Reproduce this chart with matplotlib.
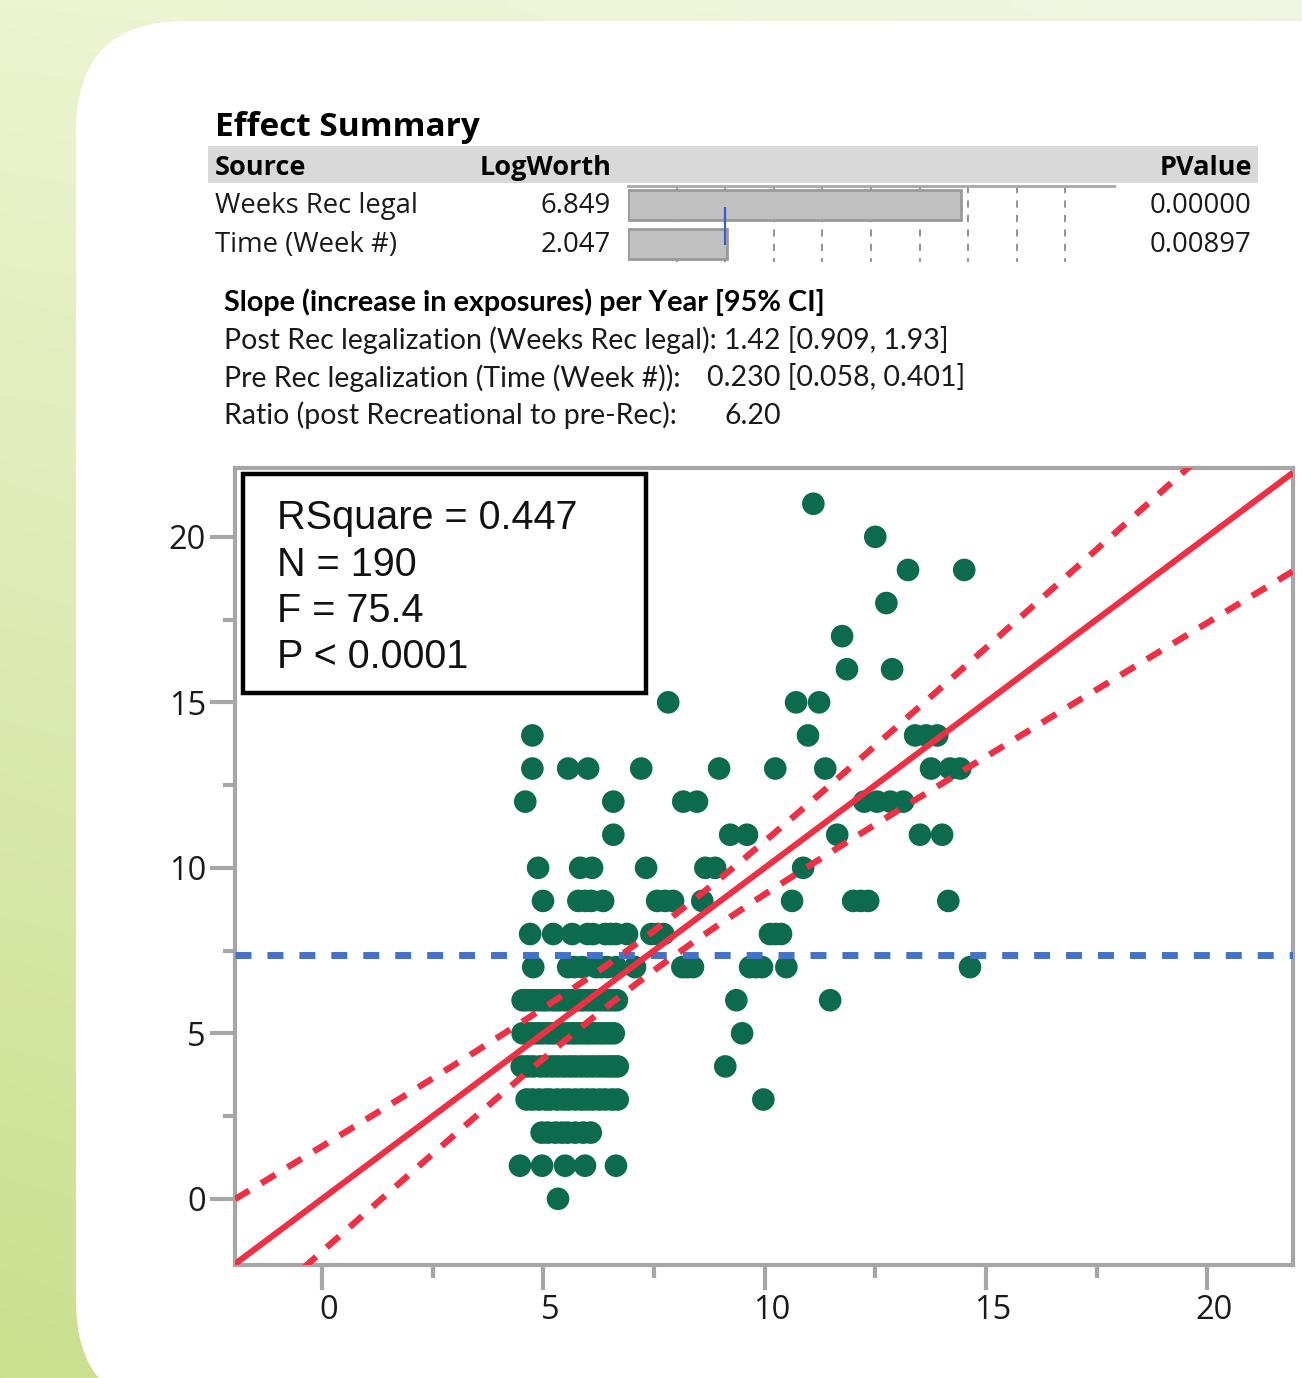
import numpy as np
import matplotlib
matplotlib.use("Agg")
import matplotlib.pyplot as plt
import matplotlib.transforms as mtransforms
from matplotlib.patches import FancyBboxPatch, Rectangle
from matplotlib.ticker import MultipleLocator

# ---------------- data ----------------
sources = ["Weeks Rec legal", "Time (Week #)"]
logworth = [6.849, 2.047]
logworth_labels = ["6.849", "2.047"]
pvalues = ["0.00000", "0.00897"]
logworth_ref = 2.0          # blue reference line (p = 0.01)

slope_title = "Slope (increase in exposures) per Year [95% CI]"
slope_labels = ["Post Rec legalization (Weeks Rec legal): 1.42 [0.909, 1.93]",
                "Pre Rec legalization (Time (Week #)):",
                "Ratio (post Recreational to pre-Rec):"]
slope_values = ["", "0.230 [0.058, 0.401]", "6.20"]
fit_stats = ["RSquare = 0.447", "N = 190", "F = 75.4", "P < 0.0001"]

# Actual (rows, y) by Predicted (x) points
actual_rows = [21, 20, 19, 18, 17, 16, 15, 14, 13, 12, 11, 10, 9, 8, 7, 6, 5, 4, 3, 2, 1, 0]
predicted_by_row = [
    [11.10],
    [12.50],
    [13.24, 14.51],
    [12.75],
    [11.75],
    [11.86, 12.88],
    [7.82, 10.71, 11.23],
    [4.75, 10.98, 13.40, 13.65, 13.90],
    [4.75, 5.56, 6.01, 7.21, 8.97, 10.24, 11.37, 13.76, 14.19, 14.42],
    [4.59, 6.58, 8.16, 8.47, 12.25, 12.54, 12.84, 13.13],
    [6.58, 9.22, 9.60, 11.64, 13.51, 14.01],
    [4.88, 5.83, 6.10, 7.32, 8.66, 8.88, 10.87],
    [4.99, 5.79, 5.95, 6.08, 6.35, 7.57, 7.75, 7.93, 8.59, 10.62, 12.00, 12.17, 12.34, 14.15],
    [4.70, 5.22, 5.65, 6.00, 6.12, 6.40, 6.52, 6.64, 6.89, 7.44, 7.58, 7.71, 10.12, 10.25, 10.37],
    [4.77, 5.56, 5.70, 5.88, 6.19, 6.30, 6.44, 6.64, 7.07, 8.14, 8.25, 8.38, 9.67, 9.80, 9.94, 10.49, 14.64],
    [4.53, 4.61, 4.72, 4.80, 4.91, 5.00, 5.08, 5.19, 5.27, 5.36, 5.47, 5.55, 5.63, 5.74, 5.83,
     5.90, 6.01, 6.10, 6.18, 6.29, 6.38, 6.47, 6.57, 6.66, 9.36, 11.48],
    [4.53, 4.64, 4.75, 4.86, 4.97, 5.10, 5.21, 5.32, 5.42, 5.55, 5.66, 5.76, 5.87, 5.98, 6.07,
     6.17, 6.28, 6.38, 6.49, 6.59, 9.49],
    [4.51, 4.64, 4.77, 4.93, 5.06, 5.20, 5.33, 5.47, 5.60, 5.72, 5.86, 5.99, 6.11, 6.24, 6.36,
     6.47, 6.58, 6.68, 9.11],
    [4.62, 4.75, 4.90, 5.05, 5.15, 5.31, 5.45, 5.57, 5.72, 5.86, 5.99, 6.12, 6.27, 6.40, 6.55,
     6.68, 9.97],
    [4.96, 5.10, 5.27, 5.42, 5.55, 5.72, 5.90, 6.07],
    [4.47, 4.97, 5.49, 5.94, 6.64],
    [5.33],
]
ci_a = 0.60   # half-width of confidence curves at the mean
ci_b = 0.20   # growth of half-width away from the mean

x_ticks = [0, 5, 10, 15, 20]
y_ticks = [0, 5, 10, 15, 20]

# ---------------- figure ----------------
W, H = 1302, 1378
fig = plt.figure(figsize=(W / 100, H / 100), dpi=100)

bg = fig.add_axes([0, 0, 1, 1], zorder=0)
bg.set_xlim(0, W)
bg.set_ylim(H, 0)
bg.axis("off")
tl = np.array([236, 244, 208]) / 255
tr = np.array([241, 246, 226]) / 255
bl = np.array([203, 223, 142]) / 255
br = np.array([214, 230, 168]) / 255
yy, xx = np.mgrid[0:1:120j, 0:1:120j]
grad = ((1 - yy)[..., None] * ((1 - xx)[..., None] * tl + xx[..., None] * tr)
        + yy[..., None] * ((1 - xx)[..., None] * bl + xx[..., None] * br))
bg.imshow(grad, extent=(0, W, H, 0), aspect="auto", zorder=0, interpolation="bilinear")
bg.add_patch(FancyBboxPatch((76, 21), 1500, 1390,
                            boxstyle="round,pad=0,rounding_size=110",
                            facecolor="white", edgecolor="none", zorder=1))

# header band of effect summary
bg.add_patch(Rectangle((208, 146), 1050, 37, facecolor="#d9d9d9", edgecolor="none", zorder=2))

TFONT = ["Open Sans", "DejaVu Sans"]
SFONT = ["Lato", "DejaVu Sans"]
AFONT = ["Liberation Sans", "DejaVu Sans"]
tc = "#1a1a1a"

bg.text(215, 136, "Effect Summary", fontsize=24, fontweight="bold", family=TFONT,
        color="black", va="baseline", ha="left", zorder=3)
bg.text(215, 175, "Source", fontsize=19.5, fontweight="bold", family=TFONT,
        color="black", va="baseline", ha="left", zorder=3)
bg.text(612, 175, "LogWorth", fontsize=19.5, fontweight="bold", family=TFONT,
        color="black", va="baseline", ha="right", zorder=3)
bg.text(1252, 175, "PValue", fontsize=19.5, fontweight="bold", family=TFONT,
        color="black", va="baseline", ha="right", zorder=3)
for i, (s, lw_lab, pv) in enumerate(zip(sources, logworth_labels, pvalues)):
    yb = 213 + 38.5 * i
    bg.text(215, yb, s, fontsize=19.8, family=TFONT, color=tc, va="baseline", ha="left", zorder=3)
    bg.text(611, yb, lw_lab, fontsize=19.8, family=TFONT, color=tc, va="baseline", ha="right", zorder=3)
    bg.text(1251, yb, pv, fontsize=19.8, family=TFONT, color=tc, va="baseline", ha="right", zorder=3)

bg.text(224, 311, slope_title, fontsize=20.7, fontweight="bold", family=SFONT,
        color="black", va="baseline", ha="left", zorder=3)
value_x = [None, 707, 725]
for i, (lab, val) in enumerate(zip(slope_labels, slope_values)):
    yb = 349 + 37.5 * i
    bg.text(224, yb, lab, fontsize=20.5, family=SFONT, color=tc, va="baseline", ha="left", zorder=3)
    if val:
        bg.text(value_x[i], yb, val, fontsize=20.5, family=SFONT, color=tc,
                va="baseline", ha="left", zorder=3)

# ---------------- LogWorth bars ----------------
axb = fig.add_axes([628 / W, 1 - 262 / H, 486 / W, 76 / H], zorder=2)
axb.set_xlim(0, 10)
axb.set_ylim(262, 186)
axb.patch.set_alpha(0)
for sp in ["left", "right", "bottom"]:
    axb.spines[sp].set_visible(False)
axb.spines["top"].set_color("#a8a8a8")
axb.spines["top"].set_linewidth(2)
axb.set_xticks([])
axb.set_yticks([])
axb.vlines(np.arange(1, 10), 186, 262, colors="#8a8a8a", linewidth=1.3,
           linestyles=(0, (4, 4)), zorder=1)
axb.barh([205, 244], logworth, height=30, left=0, color="#c0c0c0",
         edgecolor="#9a9a9a", linewidth=2, zorder=2)
axb.vlines(logworth_ref, 207, 245, colors="#3b5bd0", linewidth=1.6, zorder=3)

# ---------------- Actual by predicted plot ----------------
ax = fig.add_axes([235 / W, 1 - 1265 / H, (1293 - 235) / W, (1265 - 468) / H], zorder=2)
ax.set_facecolor("white")
ax.set_xlim(-1.97, 21.94)
ax.set_ylim(-2.0, 22.08)

px = np.concatenate([np.array(v, dtype=float) for v in predicted_by_row])
py = np.concatenate([np.full(len(v), r, dtype=float) for v, r in zip(predicted_by_row, actual_rows)])
ybar = py.mean()

ax.scatter(px, py, s=265, color="#0b6b4c", edgecolors="none", zorder=2)

xg = np.linspace(-1.97, 21.94, 300)
half = np.sqrt(ci_a ** 2 + ci_b ** 2 * (xg - ybar) ** 2)
ax.axhline(ybar, color="#4472c4", linewidth=5, linestyle=(0, (2.3, 2.3)), zorder=3)
ax.plot(xg, xg, color="#ee2f44", linewidth=4.4, solid_capstyle="butt", zorder=4)
ax.plot(xg, xg + half, color="#ee2f44", linewidth=4.6, linestyle=(0, (2.6, 2.2)), zorder=4)
ax.plot(xg, xg - half, color="#ee2f44", linewidth=4.6, linestyle=(0, (2.6, 2.2)), zorder=4)

for sp in ax.spines.values():
    sp.set_color("#a6a6a6")
    sp.set_linewidth(3)
ax.set_xticks(x_ticks)
ax.set_yticks(y_ticks)
ax.xaxis.set_minor_locator(MultipleLocator(2.5))
ax.yaxis.set_minor_locator(MultipleLocator(2.5))
ax.tick_params(which="major", length=18, width=3, color="#a6a6a6", labelsize=23.5,
               labelcolor="#1a1a1a", pad=3)
ax.tick_params(which="minor", length=9, width=3, color="#a6a6a6")
shift = mtransforms.ScaledTranslation(7 / 100, 0, fig.dpi_scale_trans)
for lab in ax.get_xticklabels():
    lab.set_family(TFONT)
    lab.set_transform(lab.get_transform() + shift)
for lab in ax.get_yticklabels():
    lab.set_family(TFONT)

# ---------------- overlay: fit statistics box ----------------
ov = fig.add_axes([0, 0, 1, 1], zorder=5)
ov.set_xlim(0, W)
ov.set_ylim(H, 0)
ov.axis("off")
ov.patch.set_alpha(0)
ov.add_patch(Rectangle((243, 474), 403, 219, facecolor="white", edgecolor="black",
                       linewidth=3.2, zorder=1))
for i, s in enumerate(fit_stats):
    ov.text(277, 529 + 46.5 * i, s, fontsize=28.5, family=AFONT, color="#111111",
            va="baseline", ha="left", zorder=2)

fig.savefig("out.png", dpi=100)
